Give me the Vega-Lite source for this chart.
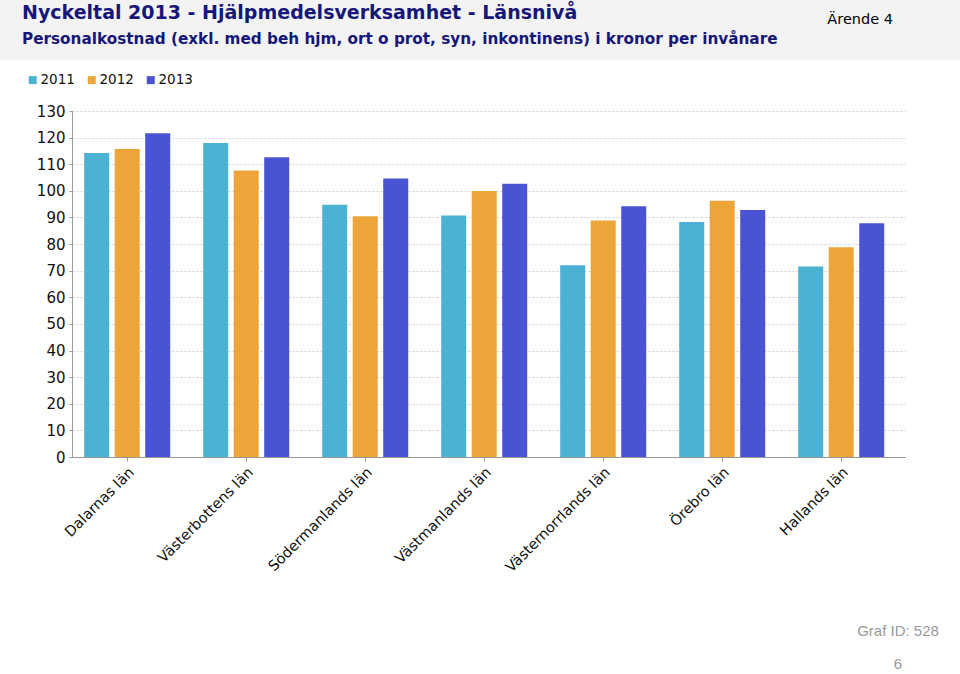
{
  "$schema": "https://vega.github.io/schema/vega-lite/v6.json",
  "padding": 0,
  "background": "white",
  "spacing": 13,
  "resolve": {"legend": {"color": "independent"}},
  "title": {
    "text": "Nyckeltal 2013 - Hjälpmedelsverksamhet - Länsnivå",
    "subtitle": "Personalkostnad (exkl. med beh hjm, ort o prot, syn, inkontinens) i kronor per invånare",
    "anchor": "start",
    "frame": "group",
    "offset": -47,
    "dx": 22,
    "font": "DejaVu Sans",
    "fontSize": 19,
    "fontWeight": "bold",
    "color": "#17177a",
    "subtitleFont": "DejaVu Sans",
    "subtitleFontSize": 15.25,
    "subtitleFontWeight": "bold",
    "subtitleColor": "#17177a",
    "subtitlePadding": 9
  },
  "vconcat": [
    {
      "width": 960,
      "height": 60,
      "view": {"fill": "#f3f3f3", "stroke": null},
      "title": {
        "text": "Ärende 4",
        "anchor": "end",
        "frame": "group",
        "offset": -27,
        "dx": -67,
        "font": "DejaVu Sans",
        "fontSize": 14.5,
        "fontWeight": "normal",
        "color": "#000000"
      },
      "data": {"values": [{"a": 1}]},
      "mark": {"type": "text", "text": ""},
      "encoding": {}
    },
    {
      "spacing": 0,
      "resolve": {"legend": {"color": "independent"}},
      "hconcat": [
        {
          "width": 1,
          "height": 346,
          "view": {"stroke": null},
          "data": {"values": [{"a": 1}]},
          "mark": {"type": "text", "text": ""},
          "encoding": {}
        },
        {
          "width": 833,
          "height": 346,
          "view": {"stroke": null},
          "title": {
            "text": "Graf ID: 528",
            "subtitle": "6",
            "orient": "bottom",
            "anchor": "end",
            "align": "center",
            "frame": "group",
            "offset": 50,
            "dx": -7,
            "font": "Liberation Sans",
            "fontSize": 15,
            "fontWeight": "normal",
            "color": "#999999",
            "subtitleFont": "Liberation Sans",
            "subtitleFontSize": 15,
            "subtitleColor": "#999999",
            "subtitlePadding": 18
          },
          "data": {
            "values": [
              {"lan": "Dalarnas län", "ar": "2011", "varde": 114.2},
              {"lan": "Dalarnas län", "ar": "2012", "varde": 115.7},
              {"lan": "Dalarnas län", "ar": "2013", "varde": 121.6},
              {"lan": "Västerbottens län", "ar": "2011", "varde": 118.0},
              {"lan": "Västerbottens län", "ar": "2012", "varde": 107.6},
              {"lan": "Västerbottens län", "ar": "2013", "varde": 112.6},
              {"lan": "Södermanlands län", "ar": "2011", "varde": 94.8},
              {"lan": "Södermanlands län", "ar": "2012", "varde": 90.5},
              {"lan": "Södermanlands län", "ar": "2013", "varde": 104.6},
              {"lan": "Västmanlands län", "ar": "2011", "varde": 90.7},
              {"lan": "Västmanlands län", "ar": "2012", "varde": 99.9},
              {"lan": "Västmanlands län", "ar": "2013", "varde": 102.7},
              {"lan": "Västernorrlands län", "ar": "2011", "varde": 72.0},
              {"lan": "Västernorrlands län", "ar": "2012", "varde": 88.9},
              {"lan": "Västernorrlands län", "ar": "2013", "varde": 94.2},
              {"lan": "Örebro län", "ar": "2011", "varde": 88.3},
              {"lan": "Örebro län", "ar": "2012", "varde": 96.3},
              {"lan": "Örebro län", "ar": "2013", "varde": 92.8},
              {"lan": "Hallands län", "ar": "2011", "varde": 71.6},
              {"lan": "Hallands län", "ar": "2012", "varde": 78.8},
              {"lan": "Hallands län", "ar": "2013", "varde": 87.8}
            ]
          },
          "mark": {"type": "bar"},
          "encoding": {
            "x": {
              "field": "lan",
              "type": "nominal",
              "sort": null,
              "scale": {"paddingInner": 0.277, "paddingOuter": 0.1385, "align": 0.37},
              "axis": {
                "title": null,
                "labelAngle": -45,
                "labelFont": "DejaVu Sans",
                "labelFontSize": 14.5,
                "labelColor": "#111111",
                "labelPadding": 4,
                "tickSize": 4,
                "tickColor": "#999999",
                "domainColor": "#999999",
                "grid": false
              }
            },
            "xOffset": {
              "field": "ar",
              "type": "nominal",
              "scale": {"paddingInner": 0.18, "paddingOuter": 0}
            },
            "y": {
              "field": "varde",
              "type": "quantitative",
              "scale": {"domain": [0, 130], "nice": false},
              "axis": {
                "title": null,
                "values": [0, 10, 20, 30, 40, 50, 60, 70, 80, 90, 100, 110, 120, 130],
                "labelFont": "DejaVu Sans",
                "labelFontSize": 15,
                "labelColor": "#111111",
                "labelPadding": 4,
                "tickSize": 3,
                "tickColor": "#999999",
                "domainColor": "#999999",
                "gridColor": "#d0d0d0",
                "gridDash": [2, 2],
                "minExtent": 71
              }
            },
            "color": {
              "field": "ar",
              "type": "nominal",
              "scale": {"domain": ["2011", "2012", "2013"], "range": ["#4bb2d4", "#eda539", "#4a54d2"]},
              "legend": {
                "orient": "none",
                "legendX": -46,
                "legendY": -38,
                "direction": "horizontal",
                "title": null,
                "symbolType": "square",
                "symbolSize": 64,
                "symbolStrokeWidth": 0,
                "symbolOpacity": 1,
                "labelFont": "DejaVu Sans",
                "labelFontSize": 13.5,
                "labelColor": "#111111",
                "labelOffset": 1,
                "columnPadding": 10
              }
            }
          }
        }
      ]
    }
  ]
}
